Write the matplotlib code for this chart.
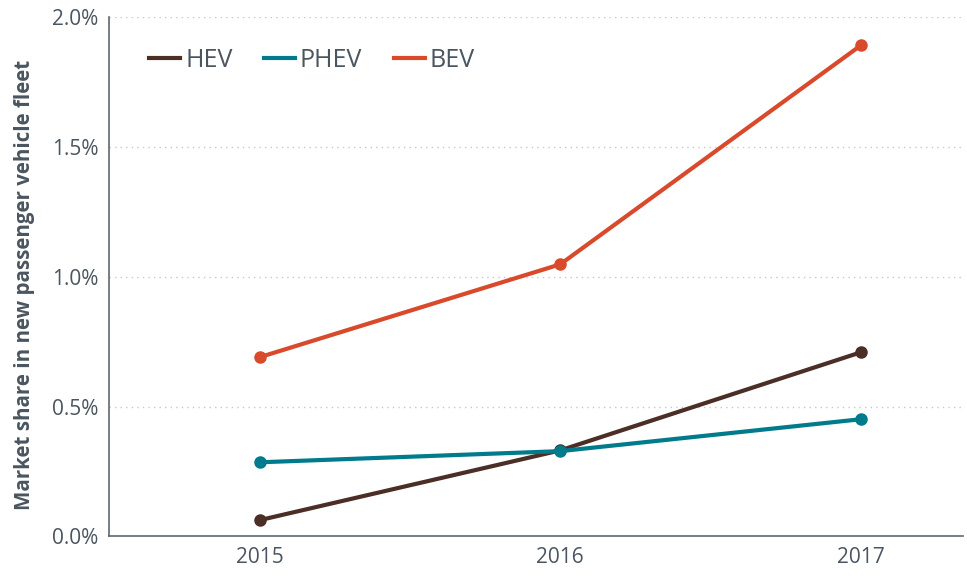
import matplotlib
matplotlib.use("Agg")
from matplotlib import pyplot as plt
from matplotlib.ticker import FuncFormatter

years = [2015, 2016, 2017]
hev = [0.062, 0.331, 0.709]
phev = [0.285, 0.328, 0.451]
bev = [0.690, 1.048, 1.892]

plt.rcParams['font.family'] = ['Open Sans', 'DejaVu Sans']
text_color = '#4a5560'

fig = plt.figure(figsize=(9.67, 5.76), dpi=100)
ax = fig.add_axes([0.113, 0.069, 0.883, 0.901])

ax.plot(years, hev, color='#4b2e26', marker='o', markersize=8, linewidth=3, label='HEV', zorder=3)
ax.plot(years, phev, color='#007b8c', marker='o', markersize=8, linewidth=3, label='PHEV', zorder=4)
ax.plot(years, bev, color='#d84a2b', marker='o', markersize=8, linewidth=3, label='BEV', zorder=3)

ax.set_xlim(2014.5, 2017.34)
ax.set_ylim(0, 2.0)
ax.set_xticks(years)
ax.set_yticks([0, 0.5, 1.0, 1.5, 2.0])
ax.yaxis.set_major_formatter(FuncFormatter(lambda v, p: f"{v:.1f}%"))
ax.tick_params(length=0, labelsize=15, colors=text_color, pad=8)

for v in [0.5, 1.0, 1.5, 2.0]:
    ax.axhline(v, color='#c8c8c8', linestyle=(0, (1, 3)), linewidth=1, zorder=1)

for s in ['top', 'right']:
    ax.spines[s].set_visible(False)
for s in ['left', 'bottom']:
    ax.spines[s].set_color('#5f676e')
    ax.spines[s].set_linewidth(1.2)

ax.set_ylabel("Market share in new passenger vehicle fleet", fontsize=14.8,
              fontweight='bold', color=text_color)
ax.yaxis.set_label_coords(-0.087, 0.484)

leg = ax.legend(loc='upper left', ncol=3, frameon=False, fontsize=18,
                handlelength=1.25, handletextpad=0.2, columnspacing=1.25,
                bbox_to_anchor=(0.02, 0.985))
for t in leg.get_texts():
    t.set_color(text_color)
for h in leg.legend_handles:
    h.set_marker('')

fig.savefig('out.png', dpi=100)
